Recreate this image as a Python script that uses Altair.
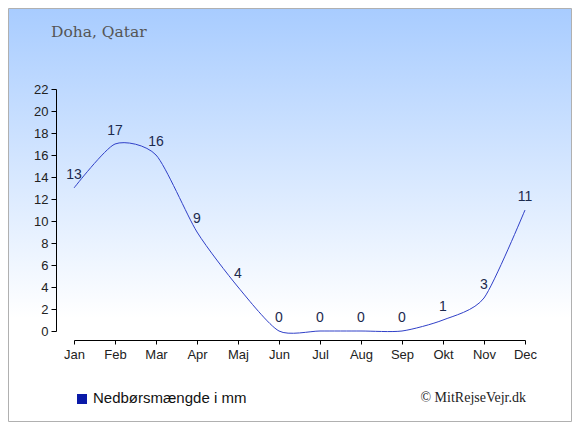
import altair as alt
import pandas as pd

months = ["Jan", "Feb", "Mar", "Apr", "Maj", "Jun", "Jul", "Aug", "Sep", "Okt", "Nov", "Dec"]
precip = [13, 17, 16, 9, 4, 0, 0, 0, 0, 1, 3, 11]
y_ticks = [0, 2, 4, 6, 8, 10, 12, 14, 16, 18, 20, 22]
title_text = "Doha, Qatar"
legend_text = "Nedbørsmængde i mm"
credit_text = "© MitRejseVejr.dk"

df = pd.DataFrame({"month": months, "mm": precip})

xaxis = alt.Axis(title=None, labelAngle=0, offset=9, tickSize=4, zindex=1,
                 labelOverlap=False,
                 labelFont="Liberation Sans", labelFontSize=13, labelColor="#222",
                 domainColor="#000", tickColor="#000", labelPadding=4, grid=False)
yaxis = alt.Axis(title=None, values=y_ticks, offset=18, tickSize=5, zindex=1,
                 labelOverlap=False,
                 labelFont="Liberation Sans", labelFontSize=13, labelColor="#222",
                 domainColor="#000", tickColor="#000", labelPadding=3, grid=False)
xscale = alt.Scale(type="point", padding=0)
yscale = alt.Scale(domain=[0, 22], nice=False, zero=True)

bg = alt.Chart(pd.DataFrame({"a": [0]})).mark_rect(
    fill=alt.Gradient(gradient="linear", x1=0, y1=0, x2=0, y2=1,
                      stops=[alt.GradientStop(offset=0, color="#a8ccff"),
                             alt.GradientStop(offset=0.75, color="#ffffff"),
                             alt.GradientStop(offset=1, color="#ffffff")]),
    stroke="#b0b0b0", strokeWidth=1
).encode(x=alt.value(-65.5), x2=alt.value(497.5), y=alt.value(-80.5), y2=alt.value(332.5))

line = alt.Chart(df).mark_line(interpolate="cardinal", tension=0.3, color="#3040c8",
                               strokeWidth=1).encode(
    x=alt.X("month:N", sort=months, scale=xscale, axis=xaxis),
    y=alt.Y("mm:Q", scale=yscale, axis=yaxis))

labels = alt.Chart(df).mark_text(dy=-13, font="Liberation Sans", fontSize=14, color="#1c2a4e",
                                 baseline="middle", align="center").encode(
    x=alt.X("month:N", sort=months, scale=xscale, axis=xaxis),
    y=alt.Y("mm:Q", scale=yscale, axis=yaxis),
    text="mm:Q")

title = alt.Chart(pd.DataFrame({"t": [title_text]})).mark_text(
    font="DejaVu Serif", fontSize=15.5, color="#555555", align="left", baseline="middle").encode(
    x=alt.value(-23), y=alt.value(-57), text="t:N")

sq = alt.Chart(pd.DataFrame({"a": [0]})).mark_square(size=100, color="#0a1aa8", opacity=1).encode(
    x=alt.value(8), y=alt.value(310))

leg = alt.Chart(pd.DataFrame({"t": [legend_text]})).mark_text(
    font="Liberation Sans", fontSize=15, color="#111", align="left", baseline="middle").encode(
    x=alt.value(19), y=alt.value(309), text="t:N")

credit = alt.Chart(pd.DataFrame({"t": [credit_text]})).mark_text(
    font="Liberation Serif", fontSize=14, color="#222", align="right", baseline="middle").encode(
    x=alt.value(452), y=alt.value(309), text="t:N")

chart = alt.layer(bg, line, labels, title, sq, leg, credit).properties(
    width=451, height=242,
    padding={"left": 66, "top": 81, "right": 47, "bottom": 91},
    autosize=alt.AutoSizeParams(type="none"),
).configure_view(stroke=None).configure(background="white")

chart.save("out.html", embed_options={"renderer": "svg", "actions": False})
